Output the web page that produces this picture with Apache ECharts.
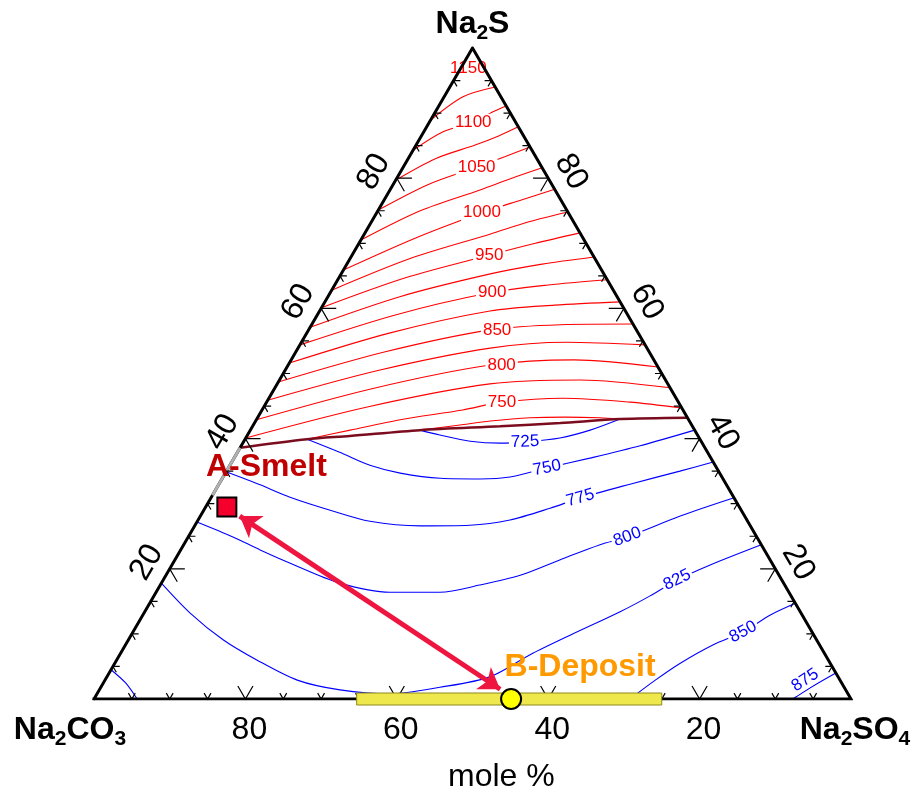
<!DOCTYPE html>
<html><head><meta charset="utf-8">
<script src="https://cdn.jsdelivr.net/npm/echarts/dist/echarts.min.js"></script>
<style>html,body{margin:0;padding:0;background:#fff}#c{width:914px;height:788px}</style>
</head><body><div id="c"></div>
<script>
// ---------- DATA (compositions in mole %: [Na2SO4, Na2S]; Na2CO3 = remainder) ----------
const redLevels = [725,750,775,800,825,850,875,900,925,950,975,1000,1025,1050,1075,1100,1125];
const redLines = [
  [[22.4,41.3],[27.3,42.1],[31.0,42.7],[36.0,43.2],[40.6,43.3],[45.2,43.2],[48.0,43.0]],
  [[8.2,39.9],[13.2,41.3],[19.0,42.9],[26.5,44.4],[31.1,45.6],[38.9,46.2],[48.0,45.6],[55.3,44.7]],
  [[0,40.1],[13.8,44.9],[28.1,48.4],[39.7,49.0],[52.2,47.8]],
  [[0,42.9],[13.0,47.7],[26.7,51.3],[37.4,52.1],[49.0,51.0]],
  [[0,45.9],[12.4,50.5],[25.4,53.9],[35.1,54.8],[45.6,54.4]],
  [[0,48.7],[11.7,53.3],[24.0,56.7],[32.9,57.5],[42.4,57.6]],
  [[0,51.6],[10.9,56.2],[22.5,59.6],[30.6,60.5],[39.0,61.0]],
  [[0,54.4],[10.3,59.0],[21.1,62.4],[28.2,63.6],[35.6,64.4]],
  [[0,57.1],[9.5,61.8],[19.7,65.3],[25.8,66.8],[32.1,67.9]],
  [[0,60.1],[8.8,64.7],[18.2,68.2],[23.3,70.0],[28.4,71.6]],
  [[0,62.8],[8.0,67.7],[16.6,71.4],[20.8,73.3],[25.2,74.8]],
  [[0,65.9],[7.2,70.9],[13.9,74.7],[18.2,76.7],[21.7,78.3]],
  [[0,70.5],[5.6,75.0],[11.9,78.2],[15.2,80.0],[18.4,81.6]],
  [[0,75.1],[4.6,79.0],[9.7,81.7],[12.6,83.3],[15.2,84.8]],
  [[0,79.7],[3.6,83.0],[7.8,85.1],[10.2,86.5],[12.1,87.9]],
  [[0,84.3],[2.5,87.1],[5.8,88.6],[7.6,90.2],[8.9,91.1]],
  [[0,88.9],[2.5,92.5],[6.0,94.0]]
];
const redLabelTemps = [750,800,850,900,950,1000,1050,1100,1150];
const redLabelComps = [[31.1,45.6],[28.2,51.3],[24.9,56.7],[21.4,62.4],[18.1,68.2],[13.9,74.7],[9.7,81.7],[5.8,88.6],[1.0,96.9]];

const blueLevels = [725,750,775,800,825,850,850,875];
const blueLines = [
  [[22.4,41.3],[25.4,40.55],[29.9,39.6],[34.0,39.3],[37.2,39.5],[41.5,40.1],[44.9,41.3],[48.0,43.0]],
  [[8.2,39.9],[13.5,37.9],[18.5,35.9],[23.1,34.7],[28.8,33.9],[34.1,33.8],[37.9,34.1],[42.1,35.5],[47.0,37.0],[52.7,38.9],[58.7,41.3]],
  [[0,34.9],[5.5,32.9],[10.4,31.0],[16.7,29.0],[22.8,27.3],[29.8,26.6],[36.3,26.7],[41.2,27.5],[45.6,29.3],[48.8,30.9],[54.3,33.0],[59.9,35.0],[63.6,36.4]],
  [[0,27.2],[5.9,24.9],[10.5,22.9],[15.4,20.9],[23.6,17.8],[30.9,16.4],[37.5,16.4],[42.2,17.5],[46.8,19.0],[50.9,21.4],[55.0,23.7],[58.0,24.9],[63.4,28.1],[69.1,30.9]],
  [[0,17.8],[6.1,13.2],[12.5,9.1],[18.5,6.0],[25.4,2.9],[31.8,1.4],[38.7,0.8],[44.8,1.8],[50.6,3.4],[54.2,6.8],[58.0,9.8],[62.8,13.4],[65.5,15.8],[67.9,18.3],[71.1,20.6],[76.3,23.7]],
  [[0,4.5],[2.9,2.5],[5.7,0]],
  [[70.8,0],[72.7,2.9],[74.7,5.5],[77.6,8.3],[80.6,10.3],[82.9,12.9],[85.3,14.7]],
  [[92.3,0],[94.0,2.0],[96.0,4.0]]
];
const blueLabelTemps = [725,750,775,800,825,850,875];
const blueLabelComps = [[37.2,39.5],[42.1,35.5],[48.8,30.9],[58.0,24.9],[67.9,18.3],[80.6,10.3],[92.5,2.9]];

const boundary = [[0,38.6],[8.2,39.9],[13.6,40.4],[22.4,41.3],[32.7,41.9],[40.4,42.4],[48.0,43.0],[56.8,43.2]];
const leftEdgeHighlight = [[0,38.6],[0,31.3]];

const smeltComp = [2.8,29.5];
const depositComp = [55.1,0];
const arrowFrom = [5.2,28.1];
const arrowTo = [52.9,1.5];
const depositRange = [34.7,75.0];   // Na2SO4 range along the binary edge

const tickValues = [5,10,15,20,25,30,35,40,45,50,55,60,65,70,75,80,85,90,95];
const majorTicks = [20,40,60,80];
const bottomLabels = [80,60,40,20];   // Na2CO3 %
const sideLabels = [20,40,60,80];     // Na2S %

// ---------- STYLE ----------
const FONT = 'Liberation Sans, Arial, Helvetica, sans-serif';
const blueLabelAngles = [2,11,16,21,26,28,33];

function tern(c){ return [c[0] + c[1]/2, c[1]]; }

const series = [];
const opaque = {opacity:1};

redLines.forEach((ln,i)=>{
  series.push({type:'line', name:'r'+redLevels[i], data: ln.map(tern), smooth:0.3, symbol:'none', silent:true, z:2,
    lineStyle:{color:'#ff0000', width:1.1}});
});
blueLines.forEach((ln,i)=>{
  series.push({type:'line', name:'b'+blueLevels[i], data: ln.map(tern), smooth:0.3, symbol:'none', silent:true, z:2,
    lineStyle:{color:'#0000ff', width:1.1}});
});
series.push({type:'line', data: boundary.map(tern), smooth:0.3, symbol:'none', silent:true, z:3,
  lineStyle:{color:'#7a0c1e', width:2.5}});

series.push({type:'scatter', symbolSize:0, silent:true, z:5, itemStyle:opaque,
  data: redLabelComps.map((c,i)=>({value: tern(c), label:{formatter: String(redLabelTemps[i])}})),
  label:{show:true, position:[0,0], align:'center', verticalAlign:'middle', color:'#ff0000', fontSize:17,
    fontFamily:FONT, backgroundColor:'#ffffff', padding:[0,2]}});
series.push({type:'scatter', symbolSize:0, silent:true, z:5, itemStyle:opaque,
  data: blueLabelComps.map((c,i)=>({value: tern(c), label:{formatter: String(blueLabelTemps[i]), rotate: blueLabelAngles[i]}})),
  label:{show:true, position:[0,0], align:'center', verticalAlign:'middle', color:'#0000ff', fontSize:17,
    fontFamily:FONT, backgroundColor:'#ffffff', padding:[0,2]}});

series.push({type:'line', data: [[0,0],[100,0],[0,100],[0,0]].map(tern), symbol:'none', silent:true, z:10,
  lineStyle:{color:'#000', width:3, join:'miter', cap:'square'}});
series.push({type:'line', data: leftEdgeHighlight.map(tern), symbol:'none', silent:true, z:11,
  lineStyle:{color:'#b0b0b0', width:3}});

const tickData = [];
[0,1,2].forEach(e=>tickValues.forEach(v=>tickData.push([e, v, majorTicks.includes(v)?1:0])));
series.push({type:'custom', silent:true, z:12, data: tickData,
  renderItem: function(params, api){
    const e = api.value(0), v = api.value(1), big = api.value(2);
    const L = big ? 2.0 : 0.9;
    let p,a,b;
    if (e===0){ p=[v,0]; a=[v,L]; b=[v-L,L]; }
    else if (e===1){ p=[0,v]; a=[L,v]; b=[L,v-L]; }
    else { p=[100-v,v]; a=[100-v-L,v]; b=[100-v,v-L]; }
    const pts = [a,p,b].map(c=>api.coord(tern(c)));
    return {type:'polyline', shape:{points:pts}, style:{stroke:'#000', lineWidth:1.2, fill:null}};
  }});

series.push({type:'custom', silent:true, z:13, data:[depositRange],
  renderItem: function(params, api){
    const a = api.coord(tern([api.value(0),0])), b = api.coord(tern([api.value(1),0]));
    return {type:'rect', shape:{x:a[0], y:a[1]-6, width:b[0]-a[0], height:12},
      style:{fill:'#efe84c', stroke:'#8e8a1c', lineWidth:1}};
  }});

series.push({type:'lines', coordinateSystem:'cartesian2d', silent:true, z:15, symbol:['arrow','arrow'], symbolSize:20,
  data:[{coords:[tern(arrowFrom), tern(arrowTo)]}],
  lineStyle:{color:'#ee1540', width:5, opacity:1, curveness:0}});

series.push({type:'scatter', silent:true, z:16, itemStyle:opaque,
  data:[
    {value: tern(smeltComp), symbol:'rect', symbolSize:19,
      itemStyle:{color:'#f5002d', borderColor:'#000', borderWidth:2, opacity:1},
      label:{show:true, formatter:'A-Smelt', position:[0,0], offset:[50,-29], align:'center', verticalAlign:'middle',
        color:'#c00000', fontSize:32, fontWeight:'bold', fontFamily:FONT}},
    {value: tern(depositComp), symbol:'circle', symbolSize:20,
      itemStyle:{color:'#ffff00', borderColor:'#000', borderWidth:2, opacity:1},
      label:{show:true, formatter:'B-Deposit', position:[10,10], offset:[70,-31], align:'center', verticalAlign:'middle',
        color:'#ff9900', fontSize:32, fontWeight:'bold', fontFamily:FONT}}
  ]});

const axisLabel = {show:true, position:[0,0], align:'center', verticalAlign:'middle', color:'#000', fontSize:32, fontFamily:FONT};
series.push({type:'scatter', symbolSize:0, silent:true, z:6, itemStyle:opaque,
  data: bottomLabels.map(v=>({value: tern([100-v,0]), label:{formatter:String(v), offset:[4,31]}})),
  label: axisLabel});
series.push({type:'scatter', symbolSize:0, silent:true, z:6, itemStyle:opaque,
  data: sideLabels.map(v=>({value: tern([0,v]), label:{formatter:String(v), offset:[-6,-23], rotate:60}})),
  label: axisLabel});
series.push({type:'scatter', symbolSize:0, silent:true, z:6, itemStyle:opaque,
  data: sideLabels.map(v=>({value: tern([100-v,v]), label:{formatter:String(v), offset:[6,-23], rotate:-60}})),
  label: axisLabel});

const rich = {
  n:{fontSize:32, fontWeight:'bold', fontFamily:FONT, color:'#000', lineHeight:40, verticalAlign:'middle'},
  s:{fontSize:21, fontWeight:'bold', fontFamily:FONT, color:'#000', lineHeight:13, verticalAlign:'bottom'}
};
series.push({type:'scatter', symbolSize:0, silent:true, z:6, itemStyle:opaque,
  data:[
    {value: tern([0,100]), label:{formatter:'{n|Na}{s|2}{n|S}', offset:[0,-24]}},
    {value: tern([0,0]), label:{formatter:'{n|Na}{s|2}{n|CO}{s|3}', offset:[-24,31]}},
    {value: tern([100,0]), label:{formatter:'{n|Na}{s|2}{n|SO}{s|4}', offset:[4,31]}}
  ],
  label:{show:true, position:[0,0], align:'center', verticalAlign:'middle', rich: rich}});

const chart = echarts.init(document.getElementById('c'), null, {renderer:'canvas'});
chart.setOption({
  animation:false,
  backgroundColor:'#ffffff',
  title:{text:'mole %', left:443, top:756, textStyle:{fontSize:32, fontWeight:'normal', color:'#000', fontFamily:FONT}},
  grid:{left:94, top:48, width:757, height:651, containLabel:false},
  xAxis:{type:'value', min:0, max:100, show:false},
  yAxis:{type:'value', min:0, max:100, show:false},
  series: series
});
</script>
</body></html>
